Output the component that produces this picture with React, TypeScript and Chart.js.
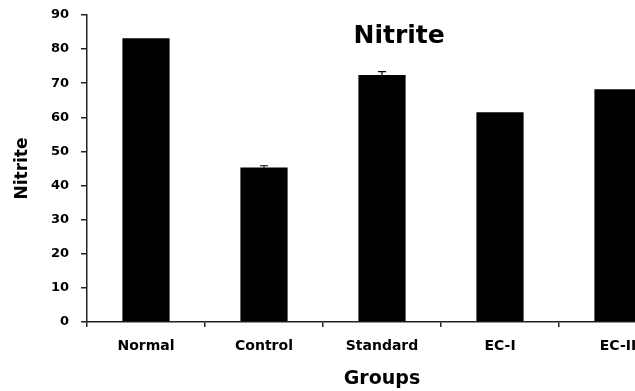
import React, { useEffect, useRef } from "react";
import { Chart, registerables } from "chart.js";

Chart.register(...registerables);

const categories = ["Normal", "Control", "Standard", "EC-I", "EC-II"];
const nitrite = [83.2, 45.3, 72.4, 61.5, 68.2];
const errors = [0, 0.5, 1.0, 0, 0];
const chartTitle = "Nitrite";
const yTitle = "Nitrite";
const xTitle = "Groups";

const FONT = "'DejaVu Sans', sans-serif";

const errorBarPlugin = {
  id: "errorBars",
  afterDatasetsDraw(chart: any) {
    const ctx = chart.ctx;
    const meta = chart.getDatasetMeta(0);
    const y = chart.scales.y;
    ctx.save();
    ctx.strokeStyle = "#000";
    ctx.lineWidth = 1.2;
    meta.data.forEach((bar: any, i: number) => {
      const e = errors[i];
      if (!e) return;
      const v = nitrite[i];
      const yTop = y.getPixelForValue(v + e);
      const yBase = y.getPixelForValue(v);
      ctx.beginPath();
      ctx.moveTo(bar.x, yBase);
      ctx.lineTo(bar.x, yTop);
      ctx.moveTo(bar.x - 4, yTop);
      ctx.lineTo(bar.x + 4, yTop);
      ctx.stroke();
    });
    ctx.restore();
  },
};

const titlePlugin = {
  id: "innerTitle",
  afterDraw(chart: any) {
    const { ctx, chartArea } = chart;
    ctx.save();
    ctx.font = `bold 25px ${FONT}`;
    ctx.fillStyle = "#000";
    ctx.textAlign = "center";
    ctx.textBaseline = "middle";
    const x = chartArea.left + (chartArea.right - chartArea.left) * 0.529;
    ctx.fillText(chartTitle, x, 36);
    ctx.restore();
  },
};

export default function App() {
  const ref = useRef<HTMLCanvasElement>(null);
  useEffect(() => {
    if (!ref.current) return;
    const chart = new Chart(ref.current, {
      type: "bar",
      data: {
        labels: categories,
        datasets: [
          {
            data: nitrite,
            backgroundColor: "#000",
            borderWidth: 0,
            barPercentage: 0.4,
            categoryPercentage: 1,
          },
        ],
      },
      options: {
        animation: false,
        responsive: false,
        layout: { padding: { top: 15, right: 23, left: 0, bottom: 0 } },
        plugins: { legend: { display: false }, tooltip: { enabled: false }, title: { display: false } },
        scales: {
          x: {
            afterFit: (s: any) => {
              s.height = 69;
              s.paddingLeft = 0;
              s.paddingRight = 0;
            },
            grid: {
              display: true,
              drawOnChartArea: false,
              drawTicks: true,
              tickLength: 5,
              offset: true,
              color: "#222",
              lineWidth: 1.5,
            },
            border: { display: true, color: "#222", width: 1.5 },
            ticks: { color: "#000", font: { family: FONT, weight: "bold", size: 14 }, padding: 11 },
            title: {
              display: true,
              text: xTitle,
              color: "#000",
              font: { family: FONT, weight: "bold", size: 19 },
              padding: { top: 0, bottom: 1 },
            },
          },
          y: {
            min: 0,
            max: 90,
            afterFit: (s: any) => {
              s.width = 87;
              s.paddingTop = 0;
              s.paddingBottom = 0;
            },
            grid: {
              display: true,
              drawOnChartArea: false,
              drawTicks: true,
              tickLength: 6,
              color: "#222",
              lineWidth: 1.5,
            },
            border: { display: true, color: "#222", width: 1.5 },
            ticks: {
              stepSize: 10,
              color: "#000",
              font: { family: FONT, weight: "bold", size: 13 },
              padding: 12,
            },
            title: {
              display: true,
              text: yTitle,
              color: "#000",
              font: { family: FONT, weight: "bold", size: 17 },
              padding: { top: 12, bottom: 0 },
            },
          },
        },
      },
      plugins: [errorBarPlugin, titlePlugin],
    });
    return () => chart.destroy();
  }, []);
  return (
    <div
      style={{
        position: "fixed",
        left: 0,
        top: 0,
        width: 635,
        height: 391,
        overflow: "hidden",
        background: "#fff",
      }}
    >
      <canvas ref={ref} width={700} height={391} style={{ width: 700, height: 391, display: "block" }} />
    </div>
  );
}
